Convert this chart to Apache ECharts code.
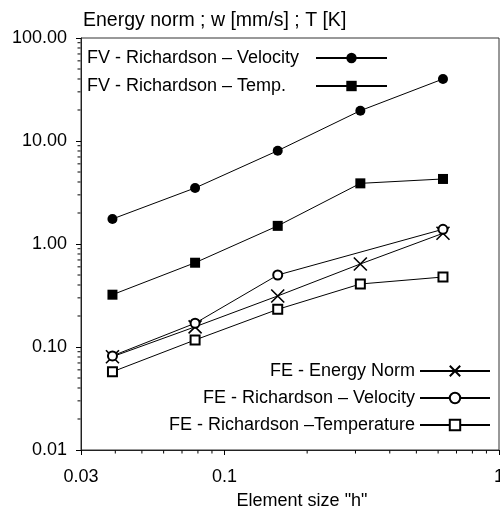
<!DOCTYPE html>
<html>
<head>
<meta charset="utf-8">
<script src="https://cdn.jsdelivr.net/npm/echarts@6/dist/echarts.min.js"></script>
<style>
  html, body { margin: 0; padding: 0; background: #fff; }
  #chart { width: 500px; height: 506px; }
</style>
</head>
<body>
<div id="chart"></div>
<script>
// Element size h (mesh refinement levels)
const elementSize = [0.0390625, 0.078125, 0.15625, 0.3125, 0.625];

// Error norms per refinement level
const fvVelocity = [1.75, 3.5, 8.05, 19.7, 40.0];
const fvTemperature = [0.322, 0.658, 1.5, 3.88, 4.28];
const feEnergyNorm = [0.0805, 0.157, 0.313, 0.64, 1.27];
const feVelocity = [0.082, 0.17, 0.5, null, 1.39];
const feTemperature = [0.0575, 0.117, 0.232, 0.409, 0.478];

// Series names
const seriesNames = [
  'FV - Richardson \u2013 Velocity',
  'FV - Richardson \u2013 Temp.',
  'FE - Energy Norm',
  'FE - Richardson \u2013 Velocity',
  'FE - Richardson \u2013Temperature'
];

// Minor tick values of the logarithmic axes
const xMinorTicks = [0.04, 0.05, 0.06, 0.07, 0.08, 0.09, 0.2, 0.3, 0.4, 0.5, 0.6, 0.7, 0.8, 0.9];
const yMinorTicks = [
  0.02, 0.03, 0.04, 0.05, 0.06, 0.07, 0.08, 0.09,
  0.2, 0.3, 0.4, 0.5, 0.6, 0.7, 0.8, 0.9,
  2, 3, 4, 5, 6, 7, 8, 9,
  20, 30, 40, 50, 60, 70, 80, 90
];

const X_MIN = 0.03, X_MAX = 1, Y_MIN = 0.01, Y_MAX = 100;
const FONT = '"Liberation Sans", Arial, sans-serif';
const CROSS = 'path://M0,0L10,10M10,0L0,10';

const pairs = (ys) => elementSize.map((x, i) => [x, ys[i]]);

function lineSeries(name, ys, symbol, size, itemStyle, extra) {
  return Object.assign({
    name: name,
    type: 'line',
    data: pairs(ys),
    symbol: symbol,
    symbolSize: size,
    showAllSymbol: true,
    lineStyle: { color: '#000', width: 1 },
    itemStyle: itemStyle,
    emphasis: { disabled: true },
    z: 3
  }, extra || {});
}

// Short tick marks at the intermediate values of each decade
function minorTickSeries(name, values, horizontal) {
  return {
    name: name,
    type: 'scatter',
    silent: true,
    clip: false,
    z: 5,
    data: values.map(v => horizontal ? [v, Y_MIN] : [X_MIN, v]),
    symbol: 'rect',
    symbolSize: horizontal ? [1, 3] : [3, 1],
    symbolOffset: horizontal ? [0, 2] : [-2, 0],
    itemStyle: { color: '#000', opacity: 1 },
    emphasis: { disabled: true },
    tooltip: { show: false }
  };
}

const chart = echarts.init(document.getElementById('chart'), null, { renderer: 'canvas' });

chart.setOption({
  animation: false,
  backgroundColor: '#fff',
  textStyle: { fontFamily: FONT, color: '#000' },
  title: {
    text: 'Energy norm ; w [mm/s] ; T [K]',
    left: 83,
    top: 11,
    padding: 0,
    textStyle: { fontFamily: FONT, fontSize: 19.5, fontWeight: 'normal', color: '#000' }
  },
  grid: {
    left: 81,
    right: 1,
    top: 38,
    bottom: 56,
    containLabel: false,
    outerBoundsMode: 'none',
    show: true,
    borderColor: '#333',
    borderWidth: 1,
    backgroundColor: 'transparent'
  },
  legend: [
    {
      data: [seriesNames[0], seriesNames[1]],
      orient: 'vertical',
      align: 'right',
      left: 87,
      top: 49,
      padding: 0,
      itemWidth: 71,
      itemHeight: 13,
      itemGap: 10,
      selectedMode: false,
      formatter: '{a|{name}}',
      textStyle: {
        fontFamily: FONT, fontSize: 18, color: '#000',
        rich: { a: { fontFamily: FONT, fontSize: 18, width: 224, align: 'left', lineHeight: 20 } }
      }
    },
    {
      data: [seriesNames[2], seriesNames[3], seriesNames[4]],
      orient: 'vertical',
      align: 'right',
      right: 9,
      top: 361,
      padding: 0,
      itemWidth: 70,
      itemHeight: 13,
      itemGap: 7,
      selectedMode: false,
      textStyle: { fontFamily: FONT, fontSize: 18, color: '#000', lineHeight: 20 }
    }
  ],
  xAxis: {
    type: 'log',
    logBase: 10,
    min: X_MIN,
    max: X_MAX,
    name: 'Element size "h"',
    nameLocation: 'middle',
    nameGap: 42,
    nameTextStyle: { fontFamily: FONT, fontSize: 18, color: '#000', padding: [0, 0, 0, 24] },
    axisLine: { show: true, onZero: false, lineStyle: { color: '#222', width: 1 } },
    axisTick: { show: true, inside: false, length: 5, lineStyle: { color: '#000' } },
    axisLabel: {
      margin: 18,
      fontFamily: FONT, fontSize: 18, color: '#000',
      formatter: v => String(+(+v).toPrecision(3))
    },
    splitLine: { show: false },
    minorTick: { show: false }
  },
  yAxis: {
    type: 'log',
    logBase: 10,
    min: Y_MIN,
    max: Y_MAX,
    axisLine: { show: true, onZero: false, lineStyle: { color: '#222', width: 1 } },
    axisTick: { show: true, inside: false, length: 5, lineStyle: { color: '#000' } },
    axisLabel: {
      margin: 14,
      fontFamily: FONT, fontSize: 18, color: '#000',
      formatter: v => (+v).toFixed(2)
    },
    splitLine: { show: false },
    minorTick: { show: false }
  },
  series: [
    lineSeries(seriesNames[0], fvVelocity, 'circle', 10, { color: '#000' }),
    lineSeries(seriesNames[1], fvTemperature, 'rect', 10, { color: '#000' }),
    lineSeries(seriesNames[2], feEnergyNorm, CROSS, 13,
      { color: 'none', borderColor: '#000', borderWidth: 1.6 }),
    lineSeries(seriesNames[3], feVelocity, 'emptyCircle', 9,
      { color: '#000', borderColor: '#000', borderWidth: 1.5 }, { connectNulls: true }),
    lineSeries(seriesNames[4], feTemperature, 'emptyRect', 9,
      { color: '#000', borderColor: '#000', borderWidth: 1.5 }),
    minorTickSeries('xMinorTicks', xMinorTicks, true),
    minorTickSeries('yMinorTicks', yMinorTicks, false)
  ]
});
</script>
</body>
</html>
